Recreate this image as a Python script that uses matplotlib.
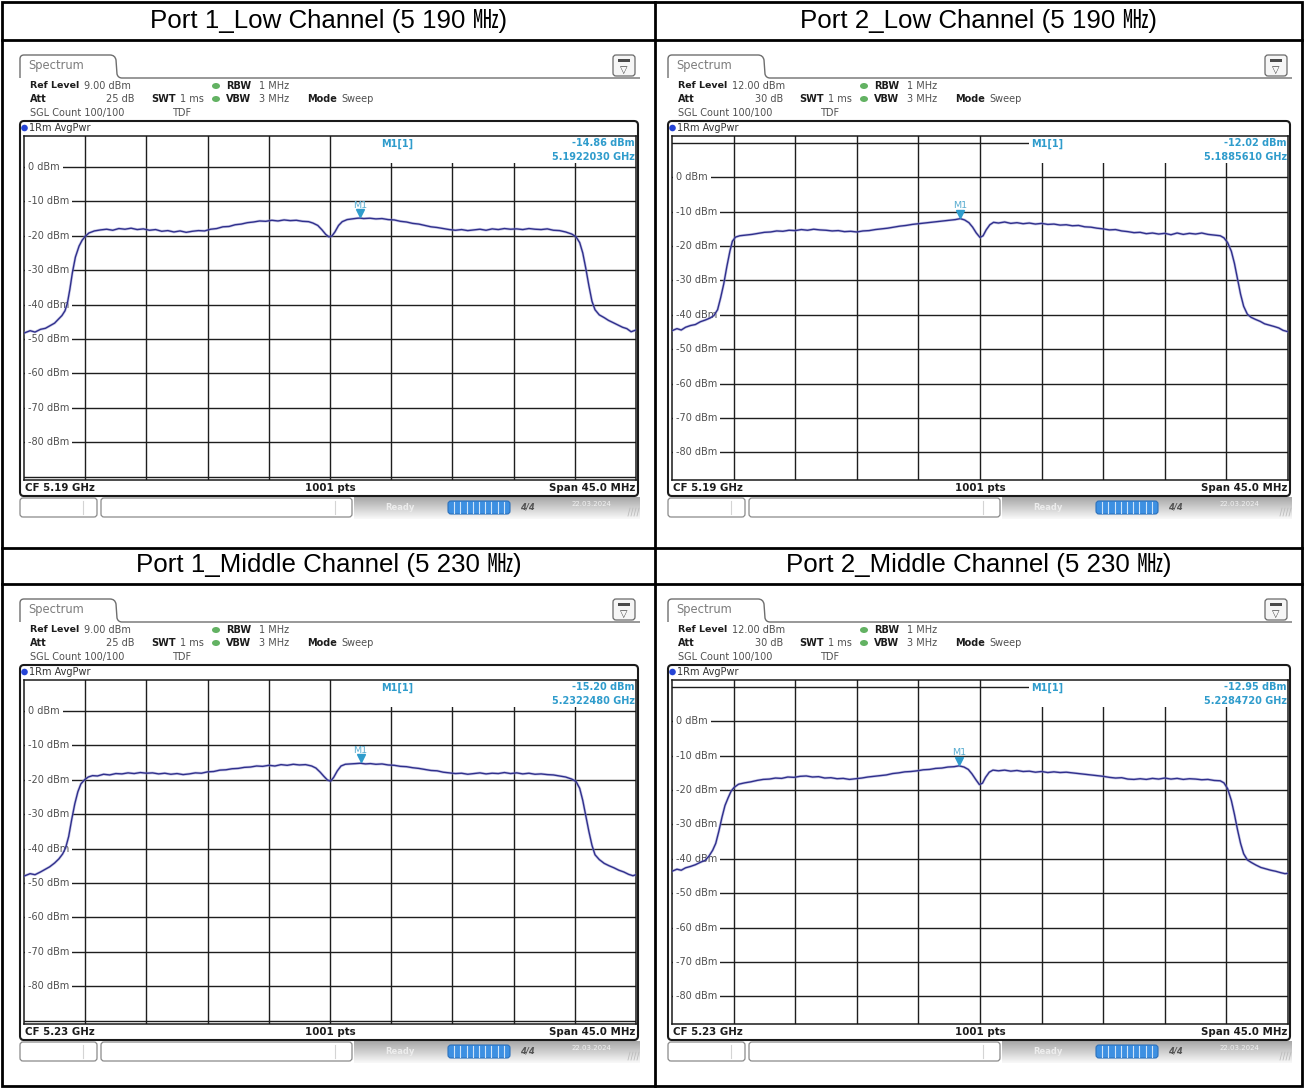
import numpy as np
import matplotlib
matplotlib.use('Agg')
import matplotlib.pyplot as plt
from matplotlib.patches import FancyBboxPatch, Rectangle, Circle, Ellipse, PathPatch
from matplotlib.path import Path
from matplotlib.colors import LinearSegmentedColormap
from matplotlib.transforms import offset_copy

plt.rcParams['font.family'] = ['DejaVu Sans']

W, H = 1304, 1088

# ---- analyzer settings per screen (Port1 low, Port2 low, Port1 mid, Port2 mid)
titles = ['Port 1_Low Channel (5 190 ㎒)', 'Port 2_Low Channel (5 190 ㎒)',
          'Port 1_Middle Channel (5 230 ㎒)', 'Port 2_Middle Channel (5 230 ㎒)']
ref_level_dbm = [9.00, 12.00, 9.00, 12.00]
att_db = [25, 30, 25, 30]
center_ghz = [5.19, 5.19, 5.23, 5.23]
span_mhz = 45.0
sweep_pts = 1001
rbw_mhz = 1
vbw_mhz = 3
swt_ms = 1
sgl_count = '100/100'
m1_ghz = [5.1922030, 5.1885610, 5.2322480, 5.2284720]
m1_dbm = [-14.86, -12.02, -15.20, -12.95]

# ---- traces: position in grid divisions (0..10 over the span), level in dBm
p1_low_div = [0.00, 0.10, 0.18, 0.27, 0.35, 0.42, 0.50, 0.56, 0.62, 0.67, 0.71, 0.75, 0.79, 0.84,
              0.90, 0.95, 1.00, 1.06, 1.15, 1.25, 1.35, 1.45, 1.55, 1.65, 1.75, 1.85, 1.95, 2.05,
              2.15, 2.25, 2.35, 2.45, 2.55, 2.65, 2.75, 2.85, 2.95, 3.05, 3.15, 3.25, 3.35, 3.45,
              3.55, 3.65, 3.75, 3.85, 3.95, 4.05, 4.15, 4.25, 4.35, 4.45, 4.55, 4.65, 4.72, 4.80,
              4.87, 4.93, 4.98, 5.03, 5.08, 5.14, 5.20, 5.28, 5.36, 5.45, 5.49, 5.55, 5.65, 5.75,
              5.85, 5.95, 6.05, 6.15, 6.25, 6.35, 6.45, 6.55, 6.65, 6.75, 6.85, 6.95, 7.05, 7.15,
              7.25, 7.35, 7.45, 7.55, 7.65, 7.75, 7.85, 7.95, 8.05, 8.15, 8.25, 8.35, 8.45, 8.55,
              8.65, 8.75, 8.85, 8.95, 9.02, 9.08, 9.13, 9.18, 9.23, 9.28, 9.33, 9.40, 9.48, 9.55,
              9.62, 9.70, 9.78, 9.85, 9.92, 10.00]
p1_low_dbm = [-48.3, -47.6, -48.0, -47.2, -46.9, -46.2, -45.4, -44.3, -43.2, -41.8, -39.5, -35.5, -30.8, -26.2,
              -23.0, -21.3, -20.2, -19.2, -18.6, -18.3, -18.1, -18.4, -17.9, -18.1, -17.8, -18.2, -18.0, -18.4,
              -18.2, -18.7, -18.5, -18.9, -18.6, -19.0, -18.7, -18.5, -18.6, -18.1, -17.9, -17.4, -17.3, -16.8,
              -16.6, -16.2, -16.0, -15.7, -15.8, -15.5, -15.7, -15.4, -15.6, -15.5, -15.8, -15.9, -16.3, -17.0,
              -18.3, -19.6, -20.3, -20.1, -18.9, -17.0, -15.9, -15.3, -15.1, -14.9, -14.86, -15.0, -14.9, -15.1,
              -15.0, -15.3, -15.4, -15.8, -16.0, -16.4, -16.6, -17.0, -17.4, -17.6, -17.9, -18.2, -18.4, -18.2,
              -18.5, -18.3, -18.1, -18.4, -18.0, -18.2, -17.9, -18.1, -18.0, -18.2, -17.9, -18.1, -18.2, -18.0,
              -18.4, -18.5, -18.9, -19.5, -20.3, -22.0, -25.0, -29.5, -34.5, -39.0, -41.5, -43.0, -43.8, -44.6,
              -45.2, -45.9, -46.6, -47.0, -47.9, -47.4]

p2_low_div = [0.00, 0.08, 0.15, 0.22, 0.30, 0.38, 0.46, 0.54, 0.62, 0.68, 0.74, 0.79, 0.84, 0.89,
              0.94, 0.98, 1.03, 1.10, 1.20, 1.30, 1.40, 1.50, 1.60, 1.70, 1.80, 1.90, 2.00, 2.10,
              2.20, 2.30, 2.40, 2.50, 2.60, 2.70, 2.80, 2.90, 3.00, 3.10, 3.20, 3.30, 3.40, 3.50,
              3.60, 3.70, 3.80, 3.90, 4.00, 4.10, 4.20, 4.30, 4.40, 4.50, 4.60, 4.68, 4.75, 4.82,
              4.88, 4.94, 5.00, 5.05, 5.10, 5.16, 5.22, 5.30, 5.40, 5.50, 5.60, 5.70, 5.80, 5.90,
              6.00, 6.10, 6.20, 6.30, 6.40, 6.50, 6.60, 6.70, 6.80, 6.90, 7.00, 7.10, 7.20, 7.30,
              7.40, 7.50, 7.60, 7.70, 7.80, 7.90, 8.00, 8.10, 8.20, 8.30, 8.40, 8.50, 8.60, 8.70,
              8.80, 8.90, 8.96, 9.02, 9.08, 9.13, 9.18, 9.23, 9.28, 9.34, 9.40, 9.47, 9.55, 9.62,
              9.70, 9.78, 9.85, 9.92, 10.00]
p2_low_dbm = [-44.6, -44.0, -44.4, -43.6, -43.1, -42.8, -42.0, -41.5, -40.9, -40.2, -38.5, -35.0, -31.0, -26.0,
              -21.5, -18.6, -17.4, -17.0, -16.8, -16.6, -16.3, -16.0, -15.9, -15.6, -15.7, -15.4, -15.5, -15.2,
              -15.4, -15.1, -15.3, -15.4, -15.6, -15.5, -15.8, -15.7, -15.9, -15.6, -15.5, -15.2, -15.0, -14.8,
              -14.5, -14.2, -14.0, -13.7, -13.5, -13.3, -13.1, -12.9, -12.7, -12.5, -12.3, -12.02, -12.4, -13.2,
              -14.5, -16.2, -17.5, -17.0, -15.3, -13.8, -13.1, -13.3, -13.0, -13.4, -13.2, -13.5, -13.3, -13.6,
              -13.4, -13.7, -13.6, -13.9, -13.8, -14.1, -14.0, -14.4, -14.5, -14.8, -15.0, -15.3, -15.2, -15.6,
              -15.8, -16.1, -16.0, -16.4, -16.2, -16.5, -16.3, -16.7, -16.2, -16.6, -16.3, -16.5, -16.2, -16.6,
              -16.8, -17.0, -17.6, -19.0, -21.5, -25.0, -29.5, -34.0, -37.5, -39.8, -40.7, -41.3, -41.9, -42.6,
              -43.0, -43.4, -43.8, -44.5, -44.9]

p1_mid_div = [0.00, 0.10, 0.18, 0.27, 0.35, 0.42, 0.50, 0.57, 0.63, 0.68, 0.73, 0.78, 0.83, 0.88,
              0.93, 0.99, 1.05, 1.12, 1.20, 1.30, 1.40, 1.50, 1.60, 1.70, 1.80, 1.90, 2.00, 2.10,
              2.20, 2.30, 2.40, 2.50, 2.60, 2.70, 2.80, 2.90, 3.00, 3.10, 3.20, 3.30, 3.40, 3.50,
              3.60, 3.70, 3.80, 3.90, 4.00, 4.10, 4.20, 4.30, 4.40, 4.50, 4.60, 4.70, 4.77, 4.84,
              4.90, 4.96, 5.01, 5.06, 5.12, 5.18, 5.25, 5.33, 5.42, 5.50, 5.58, 5.66, 5.75, 5.85,
              5.95, 6.05, 6.15, 6.25, 6.35, 6.45, 6.55, 6.65, 6.75, 6.85, 6.95, 7.05, 7.15, 7.25,
              7.35, 7.45, 7.55, 7.65, 7.75, 7.85, 7.95, 8.05, 8.15, 8.25, 8.35, 8.45, 8.55, 8.65,
              8.75, 8.85, 8.95, 9.02, 9.08, 9.13, 9.18, 9.23, 9.28, 9.33, 9.40, 9.48, 9.56, 9.64,
              9.72, 9.80, 9.88, 9.95, 10.00]
p1_mid_dbm = [-48.0, -47.3, -47.6, -46.8, -46.0, -45.3, -44.2, -43.0, -41.6, -39.8, -36.5, -31.5, -27.0, -23.5,
              -21.2, -20.0, -19.2, -18.8, -18.9, -18.4, -18.6, -18.2, -18.3, -18.0, -18.2, -17.9, -18.1, -18.0,
              -18.3, -18.1, -18.4, -18.2, -18.5, -18.3, -18.0, -18.1, -17.7, -17.6, -17.2, -17.1, -16.8, -16.7,
              -16.4, -16.3, -16.0, -16.1, -15.8, -16.0, -15.6, -15.8, -15.5, -15.7, -15.6, -16.0, -16.6, -17.8,
              -19.0, -20.1, -20.4, -19.3, -17.4, -16.0, -15.5, -15.4, -15.3, -15.20, -15.4, -15.3, -15.5, -15.4,
              -15.7, -15.8, -16.1, -16.2, -16.5, -16.7, -17.0, -17.3, -17.4, -17.8, -18.0, -18.2, -18.1, -18.4,
              -18.2, -18.0, -18.3, -18.1, -18.2, -17.9, -18.2, -18.0, -18.3, -18.1, -18.4, -18.3, -18.5, -18.6,
              -18.9, -19.2, -19.8, -20.5, -22.5, -26.0, -30.5, -35.0, -39.0, -41.8, -43.2, -44.3, -45.0, -45.6,
              -46.3, -46.8, -47.5, -47.9, -47.6]

p2_mid_div = [0.00, 0.08, 0.15, 0.22, 0.30, 0.38, 0.46, 0.54, 0.60, 0.66, 0.71, 0.76, 0.81, 0.86,
              0.91, 0.96, 1.01, 1.08, 1.18, 1.28, 1.38, 1.48, 1.58, 1.68, 1.78, 1.88, 1.98, 2.08,
              2.18, 2.28, 2.38, 2.48, 2.58, 2.68, 2.78, 2.88, 2.98, 3.08, 3.18, 3.28, 3.38, 3.48,
              3.58, 3.68, 3.78, 3.88, 3.98, 4.08, 4.18, 4.28, 4.38, 4.48, 4.58, 4.66, 4.74, 4.81,
              4.87, 4.93, 4.99, 5.04, 5.09, 5.15, 5.21, 5.30, 5.40, 5.50, 5.60, 5.70, 5.80, 5.90,
              6.00, 6.10, 6.20, 6.30, 6.40, 6.50, 6.60, 6.70, 6.80, 6.90, 7.00, 7.10, 7.20, 7.30,
              7.40, 7.50, 7.60, 7.70, 7.80, 7.90, 8.00, 8.10, 8.20, 8.30, 8.40, 8.50, 8.60, 8.70,
              8.80, 8.90, 8.96, 9.02, 9.08, 9.13, 9.18, 9.23, 9.28, 9.34, 9.40, 9.48, 9.56, 9.64,
              9.72, 9.80, 9.88, 9.95, 10.00]
p2_mid_dbm = [-43.6, -43.0, -43.3, -42.6, -42.2, -41.7, -41.0, -40.4, -39.2, -37.5, -35.5, -32.0, -28.0, -24.5,
              -22.3, -20.3, -19.2, -18.3, -17.9, -17.6, -17.2, -16.9, -16.8, -16.5, -16.6, -16.2, -16.3, -16.0,
              -15.9, -16.2, -16.1, -16.5, -16.4, -16.7, -16.6, -16.9, -16.7, -16.5, -16.2, -16.0, -15.8, -15.6,
              -15.2, -15.0, -14.7, -14.6, -14.4, -14.1, -14.0, -13.7, -13.6, -13.3, -13.2, -12.95, -13.3, -14.0,
              -15.3, -16.9, -18.4, -18.0, -16.3, -14.8, -14.2, -14.4, -14.2, -14.5, -14.3, -14.6, -14.5, -14.8,
              -14.6, -14.9, -14.7, -14.9, -14.8, -15.0, -15.2, -15.4, -15.6, -15.8, -16.0, -16.3, -16.5, -16.4,
              -16.8, -16.9, -16.7, -16.9, -16.6, -16.8, -16.5, -16.8, -16.6, -16.9, -16.7, -16.8, -17.0, -16.9,
              -17.2, -17.3, -17.9, -19.6, -23.0, -27.0, -31.5, -35.5, -38.5, -40.3, -41.0, -41.8, -42.5, -42.9,
              -43.3, -43.6, -44.0, -44.3, -44.2]

trace_div = [p1_low_div, p2_low_div, p1_mid_div, p2_mid_div]
trace_dbm = [p1_low_dbm, p2_low_dbm, p1_mid_dbm, p2_mid_dbm]

# screen placement: left/right edge of the trace window, row shift (pixels)
screens = [(20, 638, 0), (668, 1290, 0), (20, 638, 544), (668, 1290, 544)]
title_pos = [(328.5, 21), (978.5, 21), (328.5, 565), (978.5, 565)]

TXT = '#1c1c1c'
VAL = '#505050'
GRID = '#1e1e1e'
TRACE = '#2f2f8c'
MARK = '#2f9ccc'
SMALL = 7.0

fig = plt.figure(figsize=(W / 100, H / 100), dpi=100)
bg = fig.add_axes([0, 0, 1, 1])
bg.set_xlim(0, W)
bg.set_ylim(H, 0)
bg.axis('off')


def px_box(x0, y0, x1, y1):
    return [x0 / W, 1 - y1 / H, (x1 - x0) / W, (y1 - y0) / H]


def label(x, y, s, bold=False, color=None, size=SMALL, ha='left'):
    bg.text(x, y, s, fontsize=size, fontweight='bold' if bold else 'normal',
            color=color or (TXT if bold else VAL), ha=ha, va='center')


# table frame
lw_tab = 2.0
bg.add_patch(Rectangle((2, 2), W - 4, H - 4, fill=False, ec='black', lw=lw_tab))
bg.plot([655, 655], [2, H - 2], color='black', lw=lw_tab)
for yy in (40, 548, 584):
    bg.plot([2, W - 2], [yy, yy], color='black', lw=lw_tab)
for (cx, cy), t in zip(title_pos, titles):
    bg.text(cx, cy, t, ha='center', va='center', fontsize=18.6,
            family=['Liberation Sans', 'Noto Sans CJK KR'])

bar_cmap = LinearSegmentedColormap.from_list('bar', ['#a8a8a8', '#f8f8f8'])


def draw_screen(k, L, R, dy):
    ref = ref_level_dbm[k]
    cf = center_ghz[k]
    half = span_mhz / 2000.0
    step = span_mhz / 10000.0

    # tab + header line
    verts = [(L, 78 + dy), (L, 59 + dy), (L, 55 + dy), (L + 4, 55 + dy), (L + 90, 55 + dy),
             (L + 95, 55 + dy), (L + 96, 60 + dy), (L + 97, 74 + dy), (L + 98, 78 + dy),
             (L + 102, 78 + dy), (R + 2, 78 + dy)]
    codes = [Path.MOVETO, Path.LINETO, Path.CURVE3, Path.CURVE3, Path.LINETO, Path.CURVE3,
             Path.CURVE3, Path.LINETO, Path.CURVE3, Path.CURVE3, Path.LINETO]
    bg.add_patch(PathPatch(Path(verts, codes), fc='none', ec='#6e6e6e', lw=1.0))
    bg.text(L + 8, 66 + dy, 'Spectrum', fontsize=8.3, color='#7c7c7c', va='center')
    bg.add_patch(FancyBboxPatch((R - 25, 55 + dy), 22, 21, boxstyle='round,pad=0,rounding_size=3',
                                fc='#f6f6f6', ec='#6a6a6a', lw=0.9))
    bg.add_patch(Rectangle((R - 20, 58.5 + dy), 12, 3.5, fc='#4a4a4a', ec='none'))
    bg.text(R - 14, 69.5 + dy, '▽', fontsize=7, color='#444444', ha='center', va='center')

    # setting lines
    y1, y2, y3 = 86 + dy, 99 + dy, 113 + dy
    label(L + 10, y1, 'Ref Level', bold=True, size=6.8)
    label(L + 64, y1, f'{ref:.2f} dBm')
    label(L + 10, y2, 'Att', bold=True)
    label(L + 115, y2, f'{att_db[k]} dB', ha='right')
    label(L + 131, y2, 'SWT', bold=True)
    label(L + 160, y2, f'{swt_ms} ms')
    for yy in (y1, y2):
        bg.add_patch(Ellipse((L + 196, yy), 8, 6, fc='#63b263', ec='none'))
    label(L + 206, y1, 'RBW', bold=True)
    label(L + 239, y1, f'{rbw_mhz} MHz')
    label(L + 206, y2, 'VBW', bold=True)
    label(L + 239, y2, f'{vbw_mhz} MHz')
    label(L + 287, y2, 'Mode', bold=True)
    label(L + 321, y2, 'Sweep')
    label(L + 10, y3, f'SGL Count {sgl_count}')
    label(L + 152, y3, 'TDF')

    # trace window
    bg.add_patch(FancyBboxPatch((L, 121 + dy), R - L, 375, boxstyle='round,pad=0,rounding_size=4',
                                fc='white', ec='#1a1a1a', lw=1.5))
    bg.add_patch(Circle((L + 4.5, 128 + dy), 3.3, fc='#2544d6', ec='none'))
    label(L + 9, 128 + dy, '1Rm AvgPwr', color='#333333')

    fcx = (L + 4 + R - 2) / 2
    label(L + 5, 488 + dy, f'CF {cf:.2f} GHz', bold=True, size=7.4)
    label(fcx, 488 + dy, f'{sweep_pts} pts', bold=True, size=7.4, ha='center')
    label(R - 3, 488 + dy, f'Span {span_mhz:.1f} MHz', bold=True, size=7.4, ha='right')

    ax = fig.add_axes(px_box(L + 4, 136 + dy, R - 2, 480 + dy))
    ax.set_xlim(cf - half, cf + half)
    ax.set_ylim(ref - 100, ref)
    ax.set_xticks([])
    ax.set_yticks([])
    for s in ax.spines.values():
        s.set_color('#1a1a1a')
        s.set_linewidth(1.1)

    for i in range(1, 10):
        ax.axvline(cf - half + i * step, color=GRID, lw=1.0, zorder=1)
    lo = np.ceil((ref - 100) / 10.0) * 10
    for lv in np.arange(lo, ref, 10):
        ax.axhline(lv, color=GRID, lw=1.0, zorder=1)
        if ref - 95 <= lv <= 0:
            ax.annotate(f'{lv:.0f} dBm', xy=(0, lv), xycoords=('axes fraction', 'data'),
                        xytext=(4, 0), textcoords='offset pixels', fontsize=SMALL, color=VAL,
                        va='center', ha='left', zorder=2,
                        bbox=dict(fc='white', ec='none', pad=2.2))

    # marker readout area
    zx = cf + 0.8 * step
    ax.add_patch(Rectangle((zx, ref - 7.8), cf + half - zx, 7.8, fc='white', ec='none', zorder=1.5))
    ax.annotate('M1[1]', xy=(zx, ref), xytext=(2, -7.5), textcoords='offset pixels',
                fontsize=SMALL, fontweight='bold', color=MARK, va='center', ha='left', zorder=4)
    ax.annotate(f'{m1_dbm[k]:.2f} dBm', xy=(1, 1), xycoords='axes fraction', xytext=(-1, -7.5),
                textcoords='offset pixels', fontsize=SMALL, fontweight='bold', color=MARK,
                va='center', ha='right', zorder=4)
    ax.annotate(f'{m1_ghz[k]:.7f} GHz', xy=(1, 1), xycoords='axes fraction', xytext=(-1, -21.5),
                textcoords='offset pixels', fontsize=SMALL, fontweight='bold', color=MARK,
                va='center', ha='right', zorder=4)

    xs = [cf - half + d * step for d in trace_div[k]]
    ax.plot(xs, trace_dbm[k], color='#8e8ecc', lw=2.0, alpha=0.45, zorder=3)
    ax.plot(xs, trace_dbm[k], color=TRACE, lw=1.0, zorder=3.1)

    up = offset_copy(ax.transData, fig=fig, x=0, y=5, units='dots')
    ax.plot([m1_ghz[k]], [m1_dbm[k]], marker='v', ms=6, color=MARK, mec=MARK,
            transform=up, zorder=4, clip_on=False)
    ax.annotate('M1', xy=(m1_ghz[k], m1_dbm[k]), xytext=(0, 13), textcoords='offset pixels',
                fontsize=6.8, color='#58acd0', ha='center', va='center', zorder=4)

    # status row under the screen
    s0 = 498 + dy
    for a, b, d in ((0, 77, 63), (81, 332, 315)):
        bg.add_patch(FancyBboxPatch((L + a, s0), b - a, 19, boxstyle='round,pad=0,rounding_size=3',
                                    fc='white', ec='#8a8a8a', lw=0.9))
        bg.plot([L + d, L + d], [s0 + 3, s0 + 16], color='#d4d4d4', lw=0.8)
    grad = np.linspace(0, 1, 24)[:, None]
    bg.imshow(grad, cmap=bar_cmap, extent=(L + 334, R + 2, s0 + 21, s0 - 1), aspect='auto',
              zorder=0.5)
    bg.text(L + 380, s0 + 9, 'Ready', fontsize=6, color='#ededed', fontweight='bold', va='center',
            ha='center')
    bg.add_patch(FancyBboxPatch((L + 428, s0 + 3), 62, 13, boxstyle='round,pad=0,rounding_size=3',
                                fc='#3d90e2', ec='#2b70bb', lw=0.8))
    for j in range(1, 10):
        bg.plot([L + 428 + j * 6.2, L + 428 + j * 6.2], [s0 + 4, s0 + 15], color='#cfe4f8', lw=0.8)
    bg.text(L + 507, s0 + 9.5, '4/4', fontsize=6, color='#555555', fontweight='bold',
            style='italic', va='center', ha='center')
    bg.text(L + 571, s0 + 6, '22.03.2024', fontsize=5, color='#f2f2f2', va='center', ha='center')
    for j in range(4):
        bg.plot([R - 10 + j * 3, R - 2 + j * 3 - 6], [s0 + 18, s0 + 10], color='#bdbdbd', lw=0.6)


for k, (L, R, dy) in enumerate(screens):
    draw_screen(k, L, R, dy)

bg.set_xlim(0, W)
bg.set_ylim(H, 0)
fig.savefig('out.png', dpi=100)
